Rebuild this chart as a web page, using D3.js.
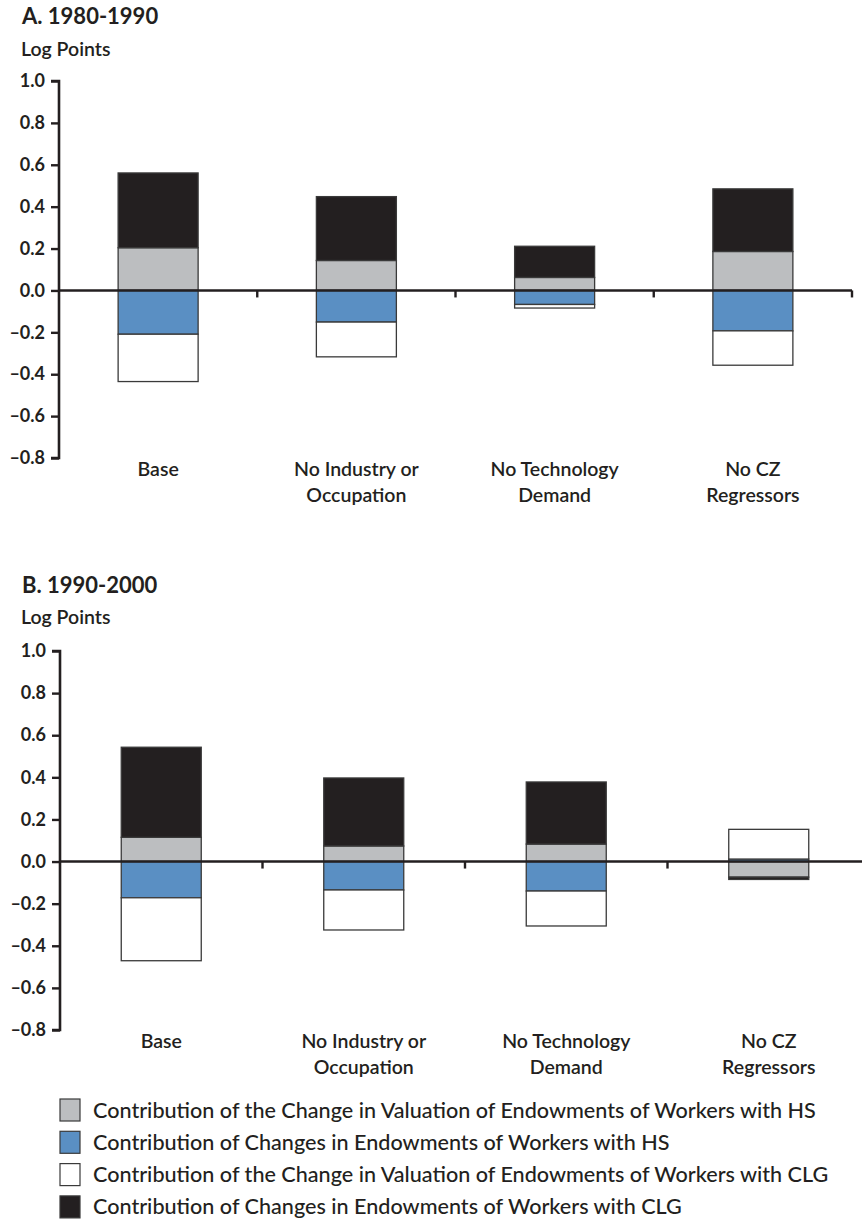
<!DOCTYPE html>
<html>
<head>
<meta charset="utf-8">
<script src="https://cdn.jsdelivr.net/npm/d3@7"></script>
<style>
  html, body { margin: 0; padding: 0; background: #fff; }
  svg { display: block; font-family: Lato, "Open Sans", sans-serif; }
</style>
</head>
<body>
<svg id="chart" width="862" height="1220"></svg>
<script>
// Scenario labels (line-broken as printed under each bar)
const categories = [
  ["Base"],
  ["No Industry or", "Occupation"],
  ["No Technology", "Demand"],
  ["No CZ", "Regressors"]
];

// Series order = stacking order and legend order
const seriesKeys = ["hsVal", "hsEnd", "clgVal", "clgEnd"];
const seriesNames = [
  "Contribution of the Change in Valuation of Endowments of Workers with HS",
  "Contribution of Changes in Endowments of Workers with HS",
  "Contribution of the Change in Valuation of Endowments of Workers with CLG",
  "Contribution of Changes in Endowments of Workers with CLG"
];
const seriesColors = ["#bcbec0", "#5a8fc3", "#ffffff", "#231f20"];

// Panel A, 1980-1990 (log points)
const hsValA  = [0.204, 0.143, 0.062, 0.186];
const hsEndA  = [-0.209, -0.151, -0.067, -0.193];
const clgValA = [-0.226, -0.166, -0.017, -0.164];
const clgEndA = [0.357, 0.305, 0.149, 0.299];

// Panel B, 1990-2000 (log points)
const hsValB  = [0.115, 0.074, 0.083, -0.074];
const hsEndB  = [-0.172, -0.135, -0.140, 0.012];
const clgValB = [-0.299, -0.190, -0.166, 0.141];
const clgEndB = [0.428, 0.323, 0.295, -0.011];

const yTicks = [1.0, 0.8, 0.6, 0.4, 0.2, 0.0, -0.2, -0.4, -0.6, -0.8];

const ink = "#231f20";
const svg = d3.select("#chart");

function buildRows(hsVal, hsEnd, clgVal, clgEnd) {
  return categories.map((c, i) => ({
    cat: i, hsVal: hsVal[i], hsEnd: hsEnd[i], clgVal: clgVal[i], clgEnd: clgEnd[i]
  }));
}

const panels = [
  { title: "A. 1980-1990", rows: buildRows(hsValA, hsEndA, clgValA, clgEndA),
    top: 81, bottom: 458, left: 59, right: 852, lineEnd: 852, titleY: 24, unitY: 56 },
  { title: "B. 1990-2000", rows: buildRows(hsValB, hsEndB, clgValB, clgEndB),
    top: 651, bottom: 1030, left: 60, right: 870, lineEnd: 862, titleY: 593, unitY: 624 }
];

const stack = d3.stack().keys(seriesKeys).offset(d3.stackOffsetDiverging);
const fmt = d => d3.format(".1f")(d).replace("\u2212", "\u2013");

panels.forEach(p => {
  const g = svg.append("g");

  const y = d3.scaleLinear().domain([-0.8, 1.0]).range([p.bottom, p.top]);
  const x = d3.scaleBand().domain(categories.map((c, i) => i)).range([p.left, p.right]);
  const barW = 80;

  // Titles
  g.append("text").attr("x", 22).attr("y", p.titleY)
    .attr("font-size", 22).attr("font-weight", 700).attr("fill", ink).text(p.title);
  g.append("text").attr("x", 21).attr("y", p.unitY)
    .attr("font-size", 19.5).attr("font-weight", 600).attr("fill", ink).text("Log Points");

  // Stacked bars
  const layers = stack(p.rows);
  g.append("g").selectAll("g").data(layers).join("g")
    .attr("fill", (d, i) => seriesColors[i])
    .selectAll("rect").data(d => d).join("rect")
      .attr("x", d => x(d.data.cat) + (x.bandwidth() - barW) / 2)
      .attr("width", barW)
      .attr("y", d => y(Math.max(d[0], d[1])))
      .attr("height", d => Math.abs(y(d[0]) - y(d[1])))
      .attr("stroke", "#3a3a3a").attr("stroke-width", 1.3);

  // Y axis
  const yAxis = d3.axisLeft(y).tickValues(yTicks).tickFormat(fmt).tickSize(8).tickPadding(6);
  const ya = g.append("g").attr("transform", `translate(${p.left},0)`).call(yAxis);
  ya.select(".domain").attr("stroke", ink).attr("stroke-width", 2.6)
    .attr("d", `M-8,${y(1.0)}H0V${y(-0.8)}H-8`);
  ya.selectAll(".tick line").attr("stroke", ink).attr("stroke-width", 2.4);
  ya.selectAll(".tick text").attr("fill", ink).attr("font-size", 18).attr("font-weight", 700)
    .attr("font-family", "Lato, sans-serif");

  // Zero line with separators between scenarios
  const y0 = y(0);
  g.append("line").attr("x1", p.left).attr("x2", p.lineEnd).attr("y1", y0).attr("y2", y0)
    .attr("stroke", ink).attr("stroke-width", 2.6);
  const seps = d3.range(1, categories.length + 1).map(i => p.left + i * x.step());
  g.append("g").selectAll("line").data(seps.filter(s => s <= p.lineEnd)).join("line")
    .attr("x1", d => d).attr("x2", d => d).attr("y1", y0).attr("y2", y0 + 7)
    .attr("stroke", ink).attr("stroke-width", 2.4);

  // Scenario labels
  const lab = g.append("g").selectAll("text").data(categories).join("text")
    .attr("text-anchor", "middle").attr("font-size", 19.5).attr("font-weight", 600)
    .attr("fill", ink)
    .attr("transform", (d, i) => `translate(${x(i) + x.bandwidth() / 2},${p.bottom + 18})`);
  lab.selectAll("tspan").data(d => d).join("tspan")
    .attr("x", 0).attr("dy", (d, i) => i === 0 ? 0 : 25.5).text(d => d);
});

// Legend
const legend = svg.append("g").selectAll("g").data(seriesNames).join("g")
  .attr("transform", (d, i) => `translate(60,${1110 + i * 32.3})`);
legend.append("rect").attr("x", 0).attr("y", -11).attr("width", 20).attr("height", 22)
  .attr("fill", (d, i) => seriesColors[i]).attr("stroke", "#3a3a3a").attr("stroke-width", 1.2);
legend.append("text").attr("x", 33).attr("y", 7.5).attr("font-size", 21.6)
  .attr("font-weight", 500).attr("fill", ink).text(d => d);
</script>
</body>
</html>
